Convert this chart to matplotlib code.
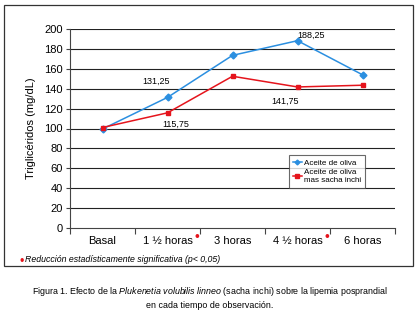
import matplotlib
matplotlib.use("Agg")
import matplotlib.pyplot as plt
from matplotlib.patches import Rectangle
from matplotlib import font_manager

names = {f.name for f in font_manager.fontManager.ttflist}
FONT = "Liberation Sans Narrow" if "Liberation Sans Narrow" in names else "Liberation Sans"
plt.rcParams['font.family'] = [FONT, 'DejaVu Sans']
plt.rcParams['mathtext.fontset'] = 'custom'
plt.rcParams['mathtext.rm'] = FONT
plt.rcParams['mathtext.it'] = FONT + ':italic'

categories = ["Basal", "1 ½ horas", "3 horas", "4 ½ horas", "6 horas"]
oliva = [99.5, 131.25, 173.5, 188.25, 154.0]
sacha = [101.0, 115.75, 152.5, 141.75, 143.5]
yticks = [0, 20, 40, 60, 80, 100, 120, 140, 160, 180, 200]

W, H = 420, 317
fig = plt.figure(figsize=(W/100, H/100), dpi=100)
fig.patch.set_facecolor("white")

# outer frame
fig.patches.append(Rectangle((4/W, 1-266/H), 409/W, 261/H, transform=fig.transFigure,
                             fill=False, edgecolor="#333333", linewidth=0.9))

ax = fig.add_axes([70/W, 1-228/H, 325/W, 199/H])
x = list(range(len(categories)))
ax.plot(x, oliva, color="#2b8fe0", marker="D", markersize=3.5, linewidth=1.1, label="Aceite de oliva", zorder=3)
ax.plot(x, sacha, color="#e5141c", marker="s", markersize=3.5, linewidth=1.1,
        label="Aceite de oliva\nmas sacha inchi", zorder=3)

ax.set_xlim(-0.5, 4.5)
ax.set_ylim(0, 200)
ax.set_yticks(yticks)
ax.set_yticklabels([str(v) for v in yticks], fontsize=8)
for v in yticks[1:]:
    ax.axhline(v, color="#222222", linewidth=0.8, zorder=1)
ax.set_xticks(x)
ax.set_xticklabels(categories, fontsize=8)
ax.set_xticks([i + 0.5 for i in range(-1, 5)], minor=True)
ax.tick_params(axis="x", which="major", length=0, pad=6)
ax.tick_params(axis="x", which="minor", length=4, width=0.8, color="#444444")
ax.tick_params(axis="y", length=3, width=0.8, color="#444444", pad=2)
for s in ["top", "right"]:
    ax.spines[s].set_visible(False)
ax.spines["left"].set_color("#444444")
ax.spines["bottom"].set_color("#444444")
ax.set_ylabel("Triglicéridos (mg/dL)", fontsize=8, labelpad=6)

# significance markers on tick labels
for i in [1, 3]:
    ax.annotate("•", xy=(i, 0), xycoords=("data", "axes fraction"), xytext=(21, -6.5),
                textcoords="offset points", color="#e5141c", fontsize=10, ha="center", va="center")

# value labels
ax.annotate("131,25", xy=(1, oliva[1]), xytext=(-8, 10), textcoords="offset points", fontsize=6.5, ha="center")
ax.annotate("188,25", xy=(3, oliva[3]), xytext=(10, 2), textcoords="offset points", fontsize=6.5, ha="center")
ax.annotate("115,75", xy=(1, sacha[1]), xytext=(6, -10), textcoords="offset points", fontsize=6.5, ha="center")
ax.annotate("141,75", xy=(3, sacha[3]), xytext=(-9, -12), textcoords="offset points", fontsize=6.5, ha="center")

leg = ax.legend(loc="upper left", bbox_to_anchor=((289-70)/325, (228-155)/199), fontsize=5.8,
                frameon=True, fancybox=False, edgecolor="#444444", borderpad=0.5, borderaxespad=0,
                handlelength=1.1, handletextpad=0.3, labelspacing=0.3, markerscale=0.7)
leg.get_frame().set_linewidth(0.8)

fig.text(19/W, 1-262/H, "•", color="#e5141c", fontsize=9, va="center", ha="left")
fig.text(25/W, 1-259/H, "Reducción estadísticamente significativa (p< 0,05)", style="italic",
         fontsize=6.3, va="center", ha="left")

fig.text(210/W, 1-292/H, "Figura 1. Efecto de la $\\mathit{Plukenetia\\ volubilis\\ linneo}$ (sacha inchi) sobre la lipemia posprandial",
         fontsize=6.4, ha="center", va="center")
fig.text(210/W, 1-305/H, "en cada tiempo de observación.", fontsize=6.4, ha="center", va="center")

fig.savefig("out.png", dpi=100)
